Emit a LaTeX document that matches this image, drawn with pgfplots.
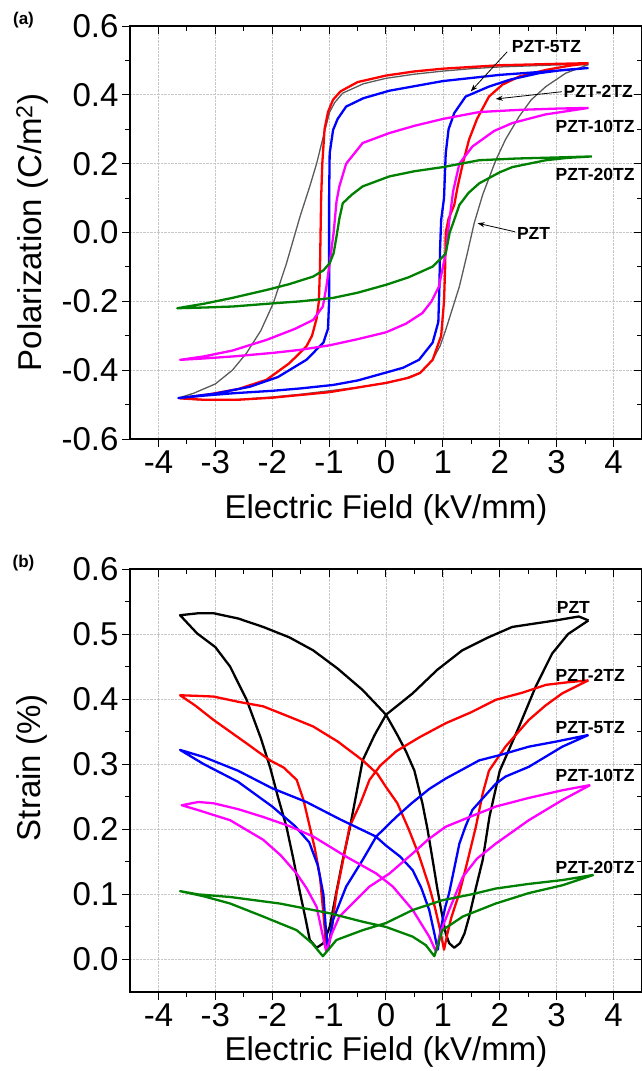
\documentclass[border=0pt]{standalone}
\usepackage{fontspec}
\setmainfont{Liberation Sans}
\usepackage{pgfplots}
\pgfplotsset{compat=1.18}
\usetikzlibrary{arrows.meta}

\definecolor{pzt}{RGB}{0,0,0}
\definecolor{pztgray}{RGB}{90,90,90}
\definecolor{tz2}{RGB}{255,0,0}
\definecolor{tz5}{RGB}{0,0,255}
\definecolor{tz10}{RGB}{255,0,255}
\definecolor{tz20}{RGB}{0,128,0}

\pgfplotsset{
  panel/.style={
    scale only axis, width=512pt,
    xmin=-4.5, xmax=4.5, xtick={-4,-3,...,4}, minor x tick num=1,
    axis line style={line width=1.1pt},
    every tick/.style={black, line width=1pt},
    major tick length=8pt, minor tick length=5pt,
    tick label style={font=\fontsize{33}{38}\selectfont},
    label style={font=\fontsize{33}{38}\selectfont},
    /pgf/number format/assume math mode=true,
    clip=false,
  },
  front/.style={tick align=outside, xtick pos=left, ytick pos=left,
    grid=major, grid style={densely dotted, black!22, line width=0.7pt}},
  back/.style={tick align=inside, xtick pos=right, ytick pos=right,
    xticklabels={}, yticklabels={}},
  curve/.style={line width=2.3pt, line join=round, no marks},
}
\tikzset{
  tag/.style={font=\fontsize{17.5}{20}\selectfont\bfseries, anchor=west, inner sep=0pt},
  ptr/.style={-{Stealth[length=7pt,width=5pt]}, line width=0.8pt},
  panellabel/.style={font=\fontsize{17}{19}\selectfont\bfseries},
}

\begin{document}
\begin{tikzpicture}
\useasboundingbox (-130pt,26pt) rectangle (512pt,-1045pt);

% ---------- (a) P-E loops ----------
\begin{axis}[panel, front, at={(0pt,0pt)}, anchor=north west, height=413pt,
  ymin=-0.6, ymax=0.6, ytick={-0.6,-0.4,...,0.61}, minor y tick num=1,
  yticklabel style={/pgf/number format/fixed, /pgf/number format/fixed zerofill, /pgf/number format/precision=1},
  xlabel={Electric Field (kV/mm)}, ylabel={Polarization (C/m\textsuperscript{2})},
  xlabel style={at={(axis description cs:0.5,-0.172)}, anchor=center},
  ylabel style={at={(axis description cs:-0.191,0.5)}, anchor=center}]
% PZT
\addplot[curve, pztgray, line width=1.3pt] coordinates {
(3.56,0.488) (3.0,0.487) (2.5,0.484) (2.0,0.481) (1.5,0.476) (1.0,0.469) (0.5,0.46) (0,0.448)
(-0.4,0.432) (-0.76,0.405) (-0.9,0.378) (-0.99,0.35) (-1.07,0.3) (-1.13,0.26) (-1.22,0.2)
(-1.34,0.134) (-1.51,0.047) (-1.75,-0.09) (-1.98,-0.205) (-2.2,-0.285) (-2.45,-0.35)
(-2.7,-0.4) (-3.0,-0.44) (-3.38,-0.467) (-3.65,-0.481)
(-3.3,-0.486) (-3.0,-0.487) (-2.68,-0.486) (-2.0,-0.478) (-1.5,-0.47) (-1.0,-0.46)
(-0.5,-0.45) (0,-0.438) (0.3,-0.426) (0.59,-0.408) (0.82,-0.37) (0.95,-0.33) (1.05,-0.283)
(1.17,-0.22) (1.29,-0.157) (1.43,-0.06) (1.55,0.027) (1.7,0.11) (1.93,0.21) (2.1,0.27)
(2.34,0.337) (2.55,0.385) (2.81,0.424) (3.16,0.463) (3.56,0.488)};
% PZT-2TZ
\addplot[curve, tz2] coordinates {
(3.56,0.492) (3.0,0.49) (2.0,0.486) (1.0,0.476) (0.5,0.468) (0,0.456) (-0.5,0.437)
(-0.8,0.41) (-0.93,0.386) (-1.02,0.35) (-1.08,0.3) (-1.12,0.2) (-1.14,0.1) (-1.15,0.0)
(-1.16,-0.1) (-1.18,-0.2) (-1.22,-0.25) (-1.3,-0.3) (-1.40,-0.331) (-1.7,-0.38)
(-2.1,-0.428) (-2.6,-0.455) (-3.1,-0.47) (-3.62,-0.482)
(-3.2,-0.486) (-2.6,-0.486) (-2.0,-0.48) (-1.0,-0.464) (0,-0.437) (0.4,-0.422) (0.6,-0.408)
(0.82,-0.37) (0.97,-0.30) (1.02,-0.2) (1.04,-0.1) (1.05,0.0) (1.1,0.04) (1.2,0.08)
(1.26,0.134) (1.35,0.2) (1.46,0.27) (1.6,0.33) (1.81,0.395) (2.05,0.43) (2.34,0.453)
(2.8,0.472) (3.2,0.484) (3.56,0.492)};
% PZT-5TZ
\addplot[curve, tz5] coordinates {
(3.56,0.478) (3.0,0.47) (2.0,0.458) (1.0,0.44) (0.06,0.412) (-0.4,0.39) (-0.7,0.366)
(-0.85,0.33) (-0.93,0.298) (-0.99,0.23) (-1.0,0.1) (-1.0,0.0) (-1.0,-0.1) (-1.0,-0.2)
(-1.02,-0.28) (-1.1,-0.32) (-1.4,-0.37) (-1.9,-0.42) (-2.39,-0.448) (-3.0,-0.468) (-3.65,-0.481)
(-3.2,-0.474) (-2.68,-0.467) (-2.0,-0.46) (-1.5,-0.453) (-0.93,-0.443) (-0.5,-0.43)
(0,-0.407) (0.3,-0.393) (0.58,-0.37) (0.82,-0.32) (0.92,-0.26) (0.94,-0.15) (0.95,-0.05)
(0.97,0.037) (1.02,0.1) (1.05,0.23) (1.1,0.3) (1.2,0.347) (1.40,0.395) (1.81,0.424)
(2.2,0.445) (2.69,0.463) (3.1,0.472) (3.56,0.478)};
% PZT-10TZ
\addplot[curve, tz10] coordinates {
(3.56,0.362) (3.0,0.36) (2.3,0.356) (1.64,0.35) (1.0,0.33) (0.5,0.31) (0.06,0.289)
(-0.41,0.26) (-0.70,0.20) (-0.82,0.134) (-0.87,0.09) (-0.92,0.0) (-0.99,-0.089)
(-1.05,-0.16) (-1.11,-0.215) (-1.28,-0.254) (-1.6,-0.28) (-2.1,-0.312) (-2.7,-0.343)
(-3.2,-0.36) (-3.62,-0.37)
(-3.2,-0.366) (-2.68,-0.36) (-2.0,-0.35) (-1.51,-0.341) (-1.0,-0.328) (-0.5,-0.31)
(0,-0.29) (0.35,-0.265) (0.64,-0.234) (0.8,-0.2) (0.93,-0.157) (1.05,-0.06) (1.11,0.03)
(1.18,0.12) (1.29,0.20) (1.52,0.25) (1.9,0.295) (2.22,0.318) (2.8,0.343) (3.56,0.362)};
% PZT-20TZ
\addplot[curve, tz20] coordinates {
(3.62,0.221) (3.0,0.218) (2.3,0.215) (1.64,0.21) (1.0,0.19) (0.5,0.178) (0.06,0.163)
(-0.41,0.134) (-0.6,0.11) (-0.76,0.085) (-0.82,0.04) (-0.87,-0.012) (-0.92,-0.06)
(-0.99,-0.089) (-1.1,-0.11) (-1.28,-0.128) (-1.7,-0.15) (-2.1,-0.167) (-2.7,-0.19)
(-3.2,-0.207) (-3.67,-0.22)
(-3.2,-0.218) (-2.69,-0.215) (-2.0,-0.206) (-1.5,-0.2) (-0.93,-0.19) (-0.5,-0.175)
(0,-0.152) (0.4,-0.13) (0.82,-0.099) (1.0,-0.07) (1.05,-0.06) (1.12,0.0) (1.2,0.037)
(1.29,0.08) (1.45,0.115) (1.64,0.143) (2.0,0.175) (2.22,0.19) (2.81,0.21) (3.2,0.217) (3.62,0.221)};

\node[tag] at (axis cs:2.21,0.54) {PZT-5TZ};
\node[tag] at (axis cs:3.12,0.409) {PZT-2TZ};
\node[tag] at (axis cs:2.98,0.307) {PZT-10TZ};
\node[tag] at (axis cs:2.98,0.168) {PZT-20TZ};
\node[tag] at (axis cs:2.30,-0.004) {PZT};
\draw[ptr] (axis cs:2.13,0.525) -- (axis cs:1.49,0.41);
\draw[ptr] (axis cs:3.09,0.409) -- (axis cs:1.93,0.388);
\draw[ptr] (axis cs:2.27,0.002) -- (axis cs:1.61,0.027);
\node[panellabel] at (rel axis cs:-0.208,1.015) {(a)};
\end{axis}
\begin{axis}[panel, back, at={(0pt,0pt)}, anchor=north west, height=413pt,
  ymin=-0.6, ymax=0.6, ytick={-0.6,-0.4,...,0.61}, minor y tick num=1]
\end{axis}

% ---------- (b) strain loops ----------
\begin{axis}[panel, front, at={(0pt,-543pt)}, anchor=north west, height=423pt,
  ymin=-0.05, ymax=0.6, ytick={0,0.1,...,0.61}, minor y tick num=1,
  yticklabel style={/pgf/number format/fixed, /pgf/number format/fixed zerofill, /pgf/number format/precision=1},
  xlabel={Electric Field (kV/mm)}, ylabel={Strain (\%)},
  xlabel style={at={(axis description cs:0.5,-0.142)}, anchor=center},
  ylabel style={at={(axis description cs:-0.191,0.53)}, anchor=center}]
% PZT
\addplot[curve, pzt] coordinates {
(3.56,0.521) (3.39,0.527) (2.98,0.521) (2.6,0.516) (2.22,0.511) (1.8,0.495) (1.34,0.475)
(0.9,0.445) (0.47,0.409) (0.2,0.39) (0,0.376) (-0.2,0.345) (-0.41,0.306) (-0.52,0.255)
(-0.64,0.2) (-0.76,0.153) (-0.88,0.1) (-0.99,0.05) (-1.1,0.025) (-1.22,0.018) (-1.34,0.03)
(-1.42,0.065) (-1.51,0.102) (-1.63,0.155) (-1.75,0.204) (-1.9,0.25) (-2.04,0.296)
(-2.2,0.34) (-2.45,0.399) (-2.74,0.45) (-3.0,0.48) (-3.32,0.501) (-3.62,0.529)
(-3.3,0.532) (-3.03,0.532) (-2.6,0.524) (-2.16,0.511) (-1.7,0.495) (-1.28,0.475)
(-0.85,0.447) (-0.41,0.414) (-0.15,0.39) (0,0.376) (0.2,0.345) (0.35,0.32) (0.5,0.29)
(0.64,0.24) (0.73,0.2) (0.82,0.153) (0.9,0.11) (0.97,0.076) (1.05,0.04) (1.11,0.025)
(1.2,0.018) (1.3,0.025) (1.38,0.04) (1.46,0.065) (1.58,0.11) (1.7,0.153) (1.82,0.22)
(2.0,0.29) (2.34,0.358) (2.63,0.419) (2.92,0.47) (3.2,0.5) (3.56,0.521)};
% PZT-2TZ
\addplot[curve, tz2] coordinates {
(3.56,0.429) (3.2,0.426) (2.81,0.422) (2.4,0.41) (1.93,0.399) (1.5,0.38) (1.05,0.363)
(0.6,0.342) (0.18,0.32) (-0.1,0.298) (-0.29,0.276) (-0.45,0.24) (-0.64,0.204) (-0.76,0.15)
(-0.87,0.102) (-0.95,0.05) (-1.02,0.015) (-1.06,0.03) (-1.1,0.07) (-1.16,0.127)
(-1.25,0.17) (-1.34,0.204) (-1.45,0.245) (-1.57,0.276) (-1.8,0.295) (-2.04,0.306)
(-2.45,0.332) (-3.03,0.368) (-3.35,0.39) (-3.62,0.406)
(-3.3,0.405) (-3.03,0.404) (-2.6,0.396) (-2.16,0.389) (-1.7,0.373) (-1.28,0.358)
(-0.85,0.335) (-0.41,0.306) (-0.15,0.285) (0,0.265) (0.2,0.24) (0.4,0.2) (0.58,0.16)
(0.76,0.112) (0.86,0.08) (0.94,0.05) (1.02,0.015) (1.08,0.04) (1.15,0.065) (1.29,0.102)
(1.43,0.15) (1.58,0.204) (1.7,0.255) (1.81,0.29) (2.1,0.327) (2.51,0.368) (2.8,0.39)
(3.1,0.409) (3.56,0.429)};
% PZT-5TZ
\addplot[curve, tz5] coordinates {
(3.56,0.345) (3.0,0.335) (2.51,0.327) (2.0,0.314) (1.64,0.306) (1.05,0.278) (0.76,0.262)
(0.45,0.24) (0.18,0.219) (-0.17,0.189) (-0.41,0.153) (-0.70,0.112) (-0.93,0.061)
(-1.02,0.015) (-1.06,0.05) (-1.1,0.1) (-1.2,0.145) (-1.35,0.18) (-1.6,0.205) (-2.0,0.235)
(-2.6,0.273) (-3.2,0.3) (-3.62,0.322)
(-3.2,0.311) (-2.6,0.29) (-2.0,0.263) (-1.4,0.242) (-0.8,0.215) (-0.18,0.189) (0,0.175)
(0.25,0.158) (0.47,0.137) (0.62,0.11) (0.76,0.076) (0.85,0.04) (0.91,0.015) (0.97,0.05)
(1.04,0.08) (1.11,0.102) (1.2,0.14) (1.29,0.178) (1.4,0.205) (1.52,0.23) (1.93,0.27)
(2.1,0.281) (2.51,0.296) (3.1,0.327) (3.56,0.345)};
% PZT-10TZ
\addplot[curve, tz10] coordinates {
(3.59,0.268) (3.1,0.26) (2.5,0.248) (1.93,0.235) (1.5,0.22) (1.05,0.204) (0.75,0.185)
(0.47,0.163) (0.06,0.132) (-0.29,0.112) (-0.52,0.092) (-0.82,0.066) (-0.95,0.04)
(-1.05,0.012) (-1.12,0.04) (-1.22,0.081) (-1.4,0.11) (-1.57,0.132) (-1.85,0.16)
(-2.16,0.184) (-2.74,0.214) (-3.32,0.23) (-3.59,0.237)
(-3.3,0.242) (-3.03,0.24) (-2.6,0.231) (-2.16,0.219) (-1.7,0.205) (-1.28,0.189)
(-0.70,0.158) (-0.17,0.132) (0.12,0.112) (0.47,0.076) (0.76,0.035) (0.88,0.012)
(0.95,0.04) (1.11,0.076) (1.35,0.127) (1.6,0.155) (1.93,0.178) (2.51,0.214) (3.1,0.245)
(3.59,0.268)};
% PZT-20TZ
\addplot[curve, tz20] coordinates {
(3.65,0.13) (3.1,0.122) (2.5,0.116) (1.93,0.109) (1.5,0.1) (0.99,0.091) (0.47,0.076)
(0,0.056) (-0.41,0.045) (-0.87,0.03) (-1.11,0.005) (-1.3,0.025) (-1.57,0.045)
(-2.16,0.066) (-2.74,0.086) (-3.2,0.097) (-3.62,0.105)
(-3.3,0.1) (-2.74,0.096) (-1.87,0.086) (-0.99,0.071) (-0.41,0.058) (0,0.05) (0.47,0.035)
(0.7,0.022) (0.85,0.005) (0.99,0.045) (1.35,0.066) (1.93,0.086) (2.51,0.102) (3.1,0.114)
(3.65,0.13)};

\node[tag] at (axis cs:3.0,0.541) {PZT};
\node[tag] at (axis cs:2.98,0.437) {PZT-2TZ};
\node[tag] at (axis cs:2.98,0.356) {PZT-5TZ};
\node[tag] at (axis cs:2.98,0.283) {PZT-10TZ};
\node[tag] at (axis cs:2.98,0.141) {PZT-20TZ};
\node[panellabel] at (rel axis cs:-0.208,1.015) {(b)};
\end{axis}
\begin{axis}[panel, back, at={(0pt,-543pt)}, anchor=north west, height=423pt,
  ymin=-0.05, ymax=0.6, ytick={0,0.1,...,0.61}, minor y tick num=1]
\end{axis}
\end{tikzpicture}
\end{document}
